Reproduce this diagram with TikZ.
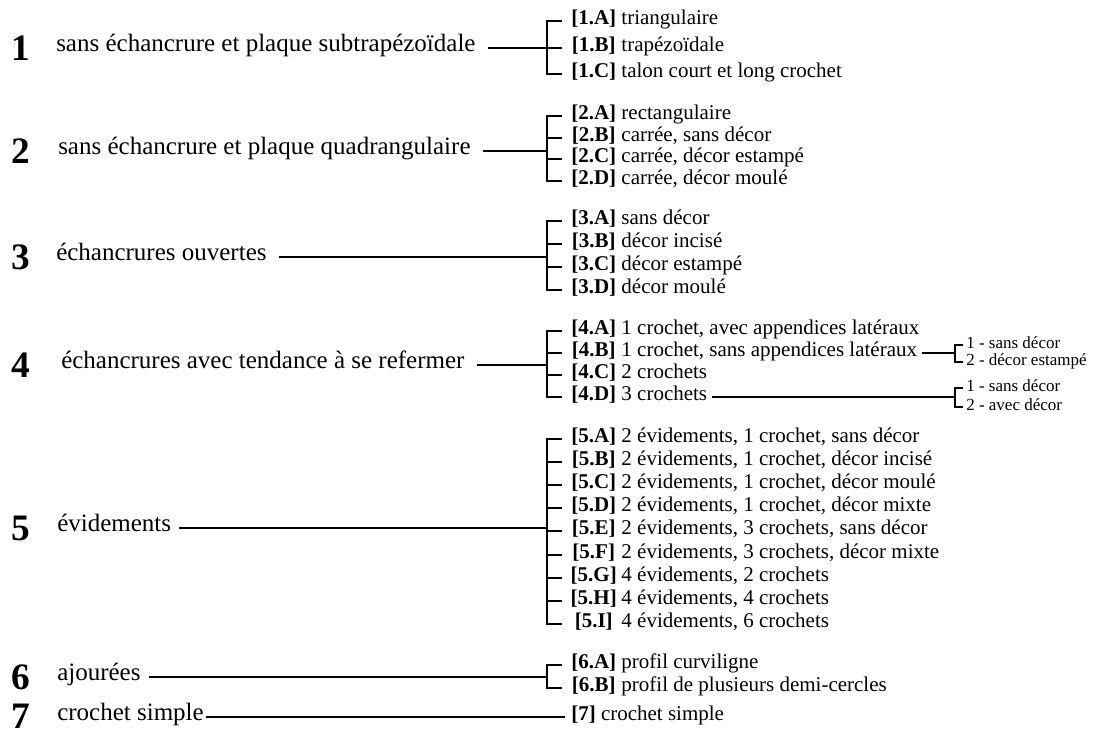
\documentclass[tikz,border=0pt]{standalone}
\usepackage{fontspec}
\setmainfont{Liberation Serif}
\usetikzlibrary{positioning}

\newcommand{\clab}[1]{\makebox[2.14em][c]{\textbf{[#1]}}}

\begin{document}
\begin{tikzpicture}[
  x=0.75pt, y=-0.75pt,
  num/.style  = {font=\fontsize{28}{32}\selectfont\bfseries, inner sep=0pt},
  cat/.style  = {font=\fontsize{18.75}{22}\selectfont, inner sep=0pt,
                 anchor=mid west},
  item/.style = {font=\fontsize{15.75}{18}\selectfont, inner sep=0pt,
                 anchor=mid west},
  var/.style  = {font=\fontsize{12.75}{14}\selectfont, inner sep=0pt,
                 anchor=mid west},
  link/.style = {line width=1.5pt}
]
\useasboundingbox (0,0) rectangle (1105,738);

% 1
\node[num] (n1) at (21,48) {1};
\node[cat] (c1) at (56,48) {sans échancrure et plaque subtrapézoïdale};
\node[item] (i1a) at (571,21) {\clab{1.A} triangulaire};
\node[item] (i1b) at (571,48) {\clab{1.B} trapézoïdale};
\node[item] (i1c) at (571,74) {\clab{1.C} talon court et long crochet};
\coordinate (j1) at (547,48);
\draw[link] ([xshift=9pt]c1.mid east) -- (j1);
\draw[link] ([xshift=-6.75pt]i1a.mid west) -- ++(-11.25pt,0)
  |- ([xshift=-6.75pt]i1c.mid west);
\draw[link] ([xshift=-6.75pt]i1b.mid west) -- ++(-11.25pt,0);

% 2
\node[num] (n2) at (21,151) {2};
\node[cat] (c2) at (58,151) {sans échancrure et plaque quadrangulaire};
\node[item] (i2a) at (571,116) {\clab{2.A} rectangulaire};
\node[item] (i2b) at (571,138) {\clab{2.B} carrée, sans décor};
\node[item] (i2c) at (571,159) {\clab{2.C} carrée, décor estampé};
\node[item] (i2d) at (571,181) {\clab{2.D} carrée, décor moulé};
\coordinate (j2) at (547,151);
\draw[link] ([xshift=9pt]c2.mid east) -- (j2);
\draw[link] ([xshift=-6.75pt]i2a.mid west) -- ++(-11.25pt,0)
  |- ([xshift=-6.75pt]i2d.mid west);
\draw[link] ([xshift=-6.75pt]i2b.mid west) -- ++(-11.25pt,0);
\draw[link] ([xshift=-6.75pt]i2c.mid west) -- ++(-11.25pt,0);

% 3
\node[num] (n3) at (21,257) {3};
\node[cat] (c3) at (56,257) {échancrures ouvertes};
\node[item] (i3a) at (571,221) {\clab{3.A} sans décor};
\node[item] (i3b) at (571,244) {\clab{3.B} décor incisé};
\node[item] (i3c) at (571,267) {\clab{3.C} décor estampé};
\node[item] (i3d) at (571,290) {\clab{3.D} décor moulé};
\coordinate (j3) at (547,257);
\draw[link] ([xshift=9pt]c3.mid east) -- (j3);
\draw[link] ([xshift=-6.75pt]i3a.mid west) -- ++(-11.25pt,0)
  |- ([xshift=-6.75pt]i3d.mid west);
\draw[link] ([xshift=-6.75pt]i3b.mid west) -- ++(-11.25pt,0);
\draw[link] ([xshift=-6.75pt]i3c.mid west) -- ++(-11.25pt,0);

% 4
\node[num] (n4) at (21,365) {4};
\node[cat] (c4) at (61,365) {échancrures avec tendance à se refermer};
\node[item] (i4a) at (571,331) {\clab{4.A} 1 crochet, avec appendices latéraux};
\node[item] (i4b) at (571,353) {\clab{4.B} 1 crochet, sans appendices latéraux};
\node[item] (i4c) at (571,375) {\clab{4.C} 2 crochets};
\node[item] (i4d) at (571,397) {\clab{4.D} 3 crochets};
\coordinate (j4) at (547,365);
\draw[link] ([xshift=9pt]c4.mid east) -- (j4);
\draw[link] ([xshift=-6.75pt]i4a.mid west) -- ++(-11.25pt,0)
  |- ([xshift=-6.75pt]i4d.mid west);
\draw[link] ([xshift=-6.75pt]i4b.mid west) -- ++(-11.25pt,0);
\draw[link] ([xshift=-6.75pt]i4c.mid west) -- ++(-11.25pt,0);

% 4.B and 4.D variants
\node[var] (v4b1) at (966,345) {1 - sans décor};
\node[var] (v4b2) at (966,362) {2 - décor estampé};
\coordinate (k4b) at (955,353);
\draw[link] ([xshift=3.75pt]i4b.mid east) -- (k4b);
\draw[link] ([xshift=-2.25pt]v4b1.mid west) -- ++(-6pt,0)
  |- ([xshift=-2.25pt]v4b2.mid west);
\node[var] (v4d1) at (966,388) {1 - sans décor};
\node[var] (v4d2) at (966,407) {2 - avec décor};
\coordinate (k4d) at (955,397);
\draw[link] ([xshift=3.75pt]i4d.mid east) -- (k4d);
\draw[link] ([xshift=-2.25pt]v4d1.mid west) -- ++(-6pt,0)
  |- ([xshift=-2.25pt]v4d2.mid west);

% 5
\node[num] (n5) at (21,528) {5};
\node[cat] (c5) at (57,528) {évidements};
\node[item] (i5a) at (571,439) {\clab{5.A} 2 évidements, 1 crochet, sans décor};
\node[item] (i5b) at (571,462) {\clab{5.B} 2 évidements, 1 crochet, décor incisé};
\node[item] (i5c) at (571,485) {\clab{5.C} 2 évidements, 1 crochet, décor moulé};
\node[item] (i5d) at (571,508) {\clab{5.D} 2 évidements, 1 crochet, décor mixte};
\node[item] (i5e) at (571,531) {\clab{5.E} 2 évidements, 3 crochets, sans décor};
\node[item] (i5f) at (571,555) {\clab{5.F} 2 évidements, 3 crochets, décor mixte};
\node[item] (i5g) at (571,578) {\clab{5.G} 4 évidements, 2 crochets};
\node[item] (i5h) at (571,601) {\clab{5.H} 4 évidements, 4 crochets};
\node[item] (i5i) at (571,624) {\clab{5.I} 4 évidements, 6 crochets};
\coordinate (j5) at (547,528);
\draw[link] ([xshift=6pt]c5.mid east) -- (j5);
\draw[link] ([xshift=-6.75pt]i5a.mid west) -- ++(-11.25pt,0)
  |- ([xshift=-6.75pt]i5i.mid west);
\draw[link] ([xshift=-6.75pt]i5b.mid west) -- ++(-11.25pt,0);
\draw[link] ([xshift=-6.75pt]i5c.mid west) -- ++(-11.25pt,0);
\draw[link] ([xshift=-6.75pt]i5d.mid west) -- ++(-11.25pt,0);
\draw[link] ([xshift=-6.75pt]i5e.mid west) -- ++(-11.25pt,0);
\draw[link] ([xshift=-6.75pt]i5f.mid west) -- ++(-11.25pt,0);
\draw[link] ([xshift=-6.75pt]i5g.mid west) -- ++(-11.25pt,0);
\draw[link] ([xshift=-6.75pt]i5h.mid west) -- ++(-11.25pt,0);

% 6
\node[num] (n6) at (21,677) {6};
\node[cat] (c6) at (57,677) {ajourées};
\node[item] (i6a) at (571,665) {\clab{6.A} profil curviligne};
\node[item] (i6b) at (571,688) {\clab{6.B} profil de plusieurs demi-cercles};
\coordinate (j6) at (547,677);
\draw[link] ([xshift=6pt]c6.mid east) -- (j6);
\draw[link] ([xshift=-6.75pt]i6a.mid west) -- ++(-11.25pt,0)
  |- ([xshift=-6.75pt]i6b.mid west);

% 7
\node[num] (n7) at (21,716) {7};
\node[cat] (c7) at (57,717) {crochet simple};
\node[item] (i7) at (571,717) {\textbf{[7]} crochet simple};
\draw[link] ([xshift=1.5pt]c7.mid east) -- ([xshift=-4.5pt]i7.mid west);
\end{tikzpicture}
\end{document}
